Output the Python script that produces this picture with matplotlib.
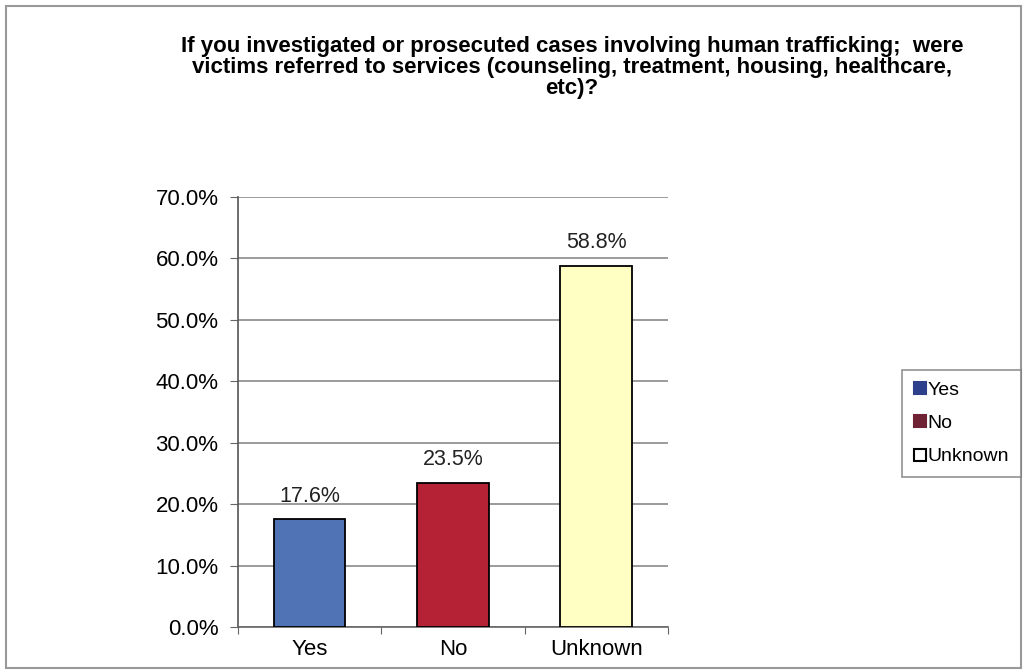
import matplotlib

matplotlib.use("Agg")

import matplotlib.pyplot as plt
from matplotlib.lines import Line2D
from matplotlib.patches import Rectangle

categories = ["Yes", "No", "Unknown"]
values = [17.6, 23.5, 58.8]
value_labels = ["17.6%", "23.5%", "58.8%"]
bar_colors = ["#4F73B4", "#B52235", "#FFFFC4"]
legend_colors = ["#2E3F8C", "#6E2233", "white"]
y_ticks = [0, 10, 20, 30, 40, 50, 60, 70]
title = ("If you investigated or prosecuted cases involving human trafficking;  were\n"
         "victims referred to services (counseling, treatment, housing, healthcare,\n"
         "etc)?")

plt.rcParams["font.family"] = ["Liberation Sans", "DejaVu Sans"]

fig = plt.figure(figsize=(10.27, 6.72), dpi=100)
ax = fig.add_axes([0.2317, 0.067, 0.4187, 0.64])

x = range(len(categories))
ax.bar(x, values, width=0.5, color=bar_colors, edgecolor="black", linewidth=1.3, zorder=3)
for xi, v, lab in zip(x, values, value_labels):
    ax.text(xi, v + 2.0, lab, ha="center", va="bottom", fontsize=15.5, color="#222222")

ax.set_xlim(-0.5, 2.5)
ax.set_ylim(0, 70)
ax.set_yticks(y_ticks)
ax.set_yticklabels([f"{t:.1f}%" for t in y_ticks], fontsize=16)
ax.yaxis.grid(True, color="#8a8a8a", linewidth=1.2, zorder=0)
ax.set_xticks([-0.5, 0.5, 1.5, 2.5])
ax.set_xticklabels([])
ax.set_xticks(list(x), minor=True)
ax.set_xticklabels(categories, minor=True, fontsize=16)
ax.tick_params(axis="x", which="minor", length=0, pad=9)
ax.tick_params(axis="x", which="major", length=5, color="#666666", direction="out")
ax.tick_params(axis="y", length=6, color="#666666", pad=8)
for side in ["top", "right"]:
    ax.spines[side].set_visible(False)
ax.spines["left"].set_color("#555555")
ax.spines["bottom"].set_color("#666666")
ax.spines["left"].set_linewidth(1.2)
ax.spines["bottom"].set_linewidth(1.2)

fig.text(0.557, 0.947, title, ha="center", va="top", fontsize=16, fontweight="bold",
         linespacing=1.02)

handles = [
    Line2D([0], [0], marker="s", linestyle="none", markerfacecolor=c,
           markeredgecolor="black" if c == "white" else c, markeredgewidth=1.5,
           markersize=8, label=lab)
    for c, lab in zip(legend_colors, categories)
]
leg = fig.legend(handles=handles, loc="center left", bbox_to_anchor=(0.869, 0.37),
                 fontsize=14, frameon=True, fancybox=False, handlelength=0.6,
                 handletextpad=0.1, labelspacing=0.8, borderpad=0.6)
leg.get_frame().set_edgecolor("#777777")
leg.get_frame().set_linewidth(1.2)

fig.patches.append(Rectangle((0.006, 0.006), 0.988, 0.985, transform=fig.transFigure,
                             fill=False, edgecolor="#999999", linewidth=1.5))

fig.savefig("out.png", dpi=100)
